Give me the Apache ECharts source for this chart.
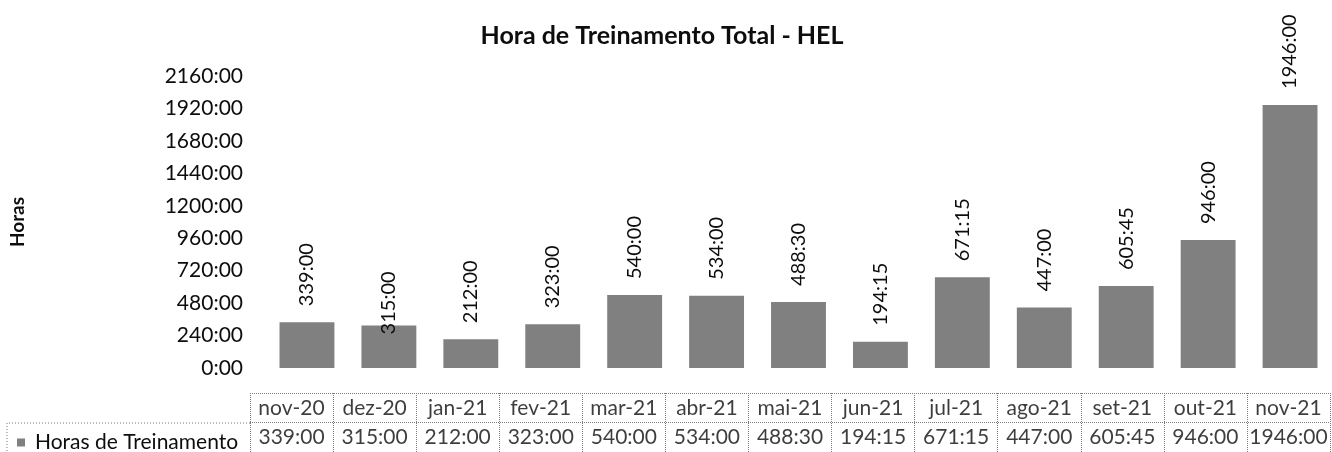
<!DOCTYPE html>
<html>
<head>
<meta charset="utf-8">
<title>Hora de Treinamento Total - HEL</title>
<script src="https://cdn.jsdelivr.net/npm/echarts@6/dist/echarts.min.js"></script>
<style>
  html, body { margin: 0; padding: 0; background: #ffffff; }
  #chart { width: 1332px; height: 452px; }
</style>
</head>
<body>
<div id="chart"></div>
<script>
// Monthly training hours (decimal hours; shown as H:MM)
const months = ['nov-20', 'dez-20', 'jan-21', 'fev-21', 'mar-21', 'abr-21', 'mai-21',
                'jun-21', 'jul-21', 'ago-21', 'set-21', 'out-21', 'nov-21'];
const trainingHours = [339, 315, 212, 323, 540, 534, 488.5, 194.25, 671.25, 447, 605.75, 946, 1946];
const seriesName = 'Horas de Treinamento';
const yTicks = { min: 0, max: 2160, step: 240 };

const FONT = 'Lato, "Open Sans", sans-serif';
const INK = '#0d0d0d';
const BAR = '#808080';
const RULE = '#7a7a7a';

function hhmm(v) {
  const h = Math.floor(v);
  const m = Math.round((v - h) * 60);
  return h + ':' + String(m).padStart(2, '0');
}

// Bars, with one label nudged down into its bar (dez-20)
const barData = trainingHours.map((v, i) => {
  const item = { value: v };
  if (months[i] === 'dez-20') item.label = { distance: -9 };
  return item;
});

// Cells of the data table under the chart: month row and value row
const tableCells = [];
months.forEach((m, i) => {
  tableCells.push({ value: [m, 'mes'], text: m });
  tableCells.push({ value: [m, 'valor'], text: hhmm(trainingHours[i]) });
});

const chart = echarts.init(document.getElementById('chart'), null, { renderer: 'canvas' });

chart.setOption({
  animation: false,
  backgroundColor: '#ffffff',
  title: {
    text: 'Hora de Treinamento Total - HEL',
    left: 657,
    textAlign: 'center',
    top: 18,
    textStyle: { fontFamily: FONT, fontSize: 25, fontWeight: 'bold', color: INK }
  },
  legend: {
    data: [seriesName],
    left: 12,
    top: 427,
    icon: 'rect',
    itemWidth: 8,
    itemHeight: 8,
    selectedMode: false,
    textStyle: { fontFamily: FONT, fontSize: 21, color: INK, padding: [0, 0, 0, 5] }
  },
  grid: [
    { left: 265, right: 1, top: 76, height: 292 },
    { left: 250, right: 2, top: 393, height: 60 }
  ],
  xAxis: [
    {
      type: 'category', gridIndex: 0, data: months,
      axisLine: { show: false }, axisTick: { show: false }, axisLabel: { show: false }
    },
    {
      type: 'category', gridIndex: 1, data: months,
      axisLine: { show: false }, axisTick: { show: false }, axisLabel: { show: false },
      splitLine: { show: true, lineStyle: { color: RULE, type: 'dotted', width: 1 } }
    }
  ],
  yAxis: [
    {
      type: 'value', gridIndex: 0,
      min: yTicks.min, max: yTicks.max, interval: yTicks.step,
      name: 'Horas', nameLocation: 'middle', nameRotate: 90, nameGap: 239,
      nameTextStyle: { fontFamily: FONT, fontSize: 19, fontWeight: 'bold', color: INK },
      axisLine: { show: false }, axisTick: { show: false },
      splitLine: { show: false },
      axisLabel: {
        formatter: v => hhmm(v), margin: 23,
        fontFamily: FONT, fontSize: 21, color: INK
      }
    },
    {
      type: 'category', gridIndex: 1, data: ['mes', 'valor'], inverse: true,
      axisLine: { show: false }, axisTick: { show: false }, axisLabel: { show: false },
      splitLine: { show: true, lineStyle: { color: RULE, type: 'dotted', width: 1 } }
    }
  ],
  series: [
    {
      name: seriesName,
      type: 'bar',
      xAxisIndex: 0, yAxisIndex: 0,
      data: barData,
      barCategoryGap: '33%',
      itemStyle: { color: BAR },
      label: {
        show: true,
        position: 'top',
        distance: 16,
        rotate: 90,
        align: 'left',
        verticalAlign: 'middle',
        formatter: p => hhmm(p.value),
        fontFamily: FONT, fontSize: 20, color: INK
      }
    },
    {
      name: 'tabela',
      type: 'scatter',
      xAxisIndex: 1, yAxisIndex: 1,
      symbolSize: 1,
      itemStyle: { color: 'rgba(0,0,0,0)' },
      silent: true,
      data: tableCells,
      label: {
        show: true,
        position: 'inside',
        formatter: p => p.data.text,
        fontFamily: FONT, fontSize: 21, color: INK
      }
    }
  ],
  graphic: [
    {
      // left cell around the series name in the value row
      type: 'polyline',
      shape: { points: [[250, 423], [7, 423], [7, 453]] },
      style: { stroke: RULE, lineWidth: 1, lineDash: [1, 2], fill: null }
    }
  ]
});
</script>
</body>
</html>
